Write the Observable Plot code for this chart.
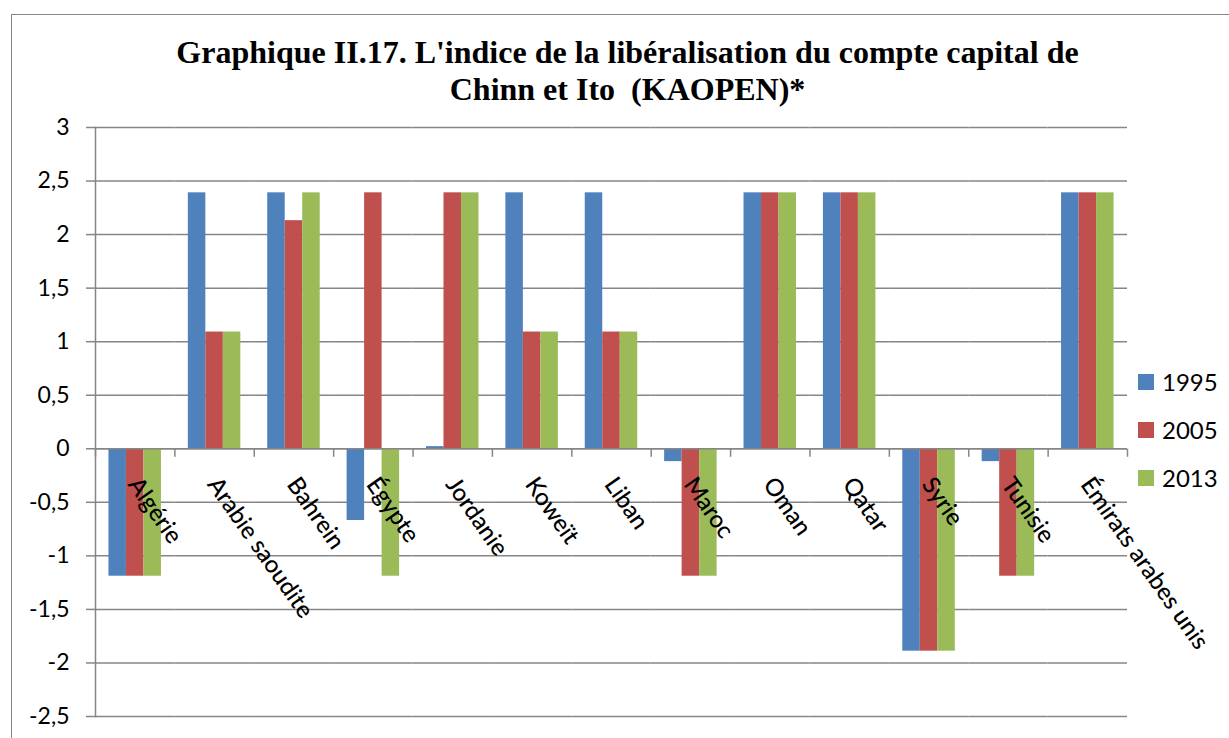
<!DOCTYPE html>
<html>
<head>
<meta charset="utf-8">
<script src="https://cdn.jsdelivr.net/npm/d3@7"></script>
<script src="https://cdn.jsdelivr.net/npm/@observablehq/plot@0.6"></script>
<style>
  html, body { margin: 0; padding: 0; background: white; overflow: hidden; }
  #wrap { position: relative; width: 1229px; height: 738px; overflow: hidden; }
  #border { position: absolute; left: 11px; top: 14px; width: 1400px; height: 900px;
            border-top: 1.5px solid #868686; border-left: 1.5px solid #868686; z-index: 3; pointer-events: none; }
  #title { position: relative; height: 110px; }
  #title div { position: absolute; left: 13px; width: 1229px; text-align: center;
               font-family: "Liberation Serif", "Times New Roman", serif; font-weight: bold;
               font-size: 32px; line-height: 37px; white-space: pre; color: black; }
  #legend { position: absolute; left: 1138px; top: 0; z-index: 2; font-family: Lato, sans-serif; font-size: 24px; }
  .li { position: absolute; left: 0; height: 24px; width: 90px; }
  .sw { position: absolute; left: 0; top: 4px; width: 16px; height: 16px; }
  .lt { position: absolute; left: 24px; top: 0; line-height: 24px; white-space: nowrap; }
</style>
</head>
<body>
<div id="wrap">
  <div id="border"></div>
  <div id="title"></div>
  <div id="chart"></div>
  <div id="legend"></div>
</div>
<script>
const titleLines = ["Graphique II.17. L'indice de la libéralisation du compte capital de", "Chinn et Ito  (KAOPEN)*"];
const countries = ["Algérie", "Arabie saoudite", "Bahrein", "Égypte", "Jordanie", "Koweït", "Liban", "Maroc", "Oman", "Qatar", "Syrie", "Tunisie", "Émirats arabes unis"];
const years = ["1995", "2005", "2013"];
const v1995 = [-1.19, 2.39, 2.39, -0.67, 0.02, 2.39, 2.39, -0.12, 2.39, 2.39, -1.89, -0.12, 2.39];
const v2005 = [-1.19, 1.09, 2.13, 2.39, 2.39, 1.09, 1.09, -1.19, 2.39, 2.39, -1.89, -1.19, 2.39];
const v2013 = [-1.19, 1.09, 2.39, -1.19, 2.39, 1.09, 1.09, -1.19, 2.39, 2.39, -1.89, -1.19, 2.39];
const colors = ["#4F81BD", "#C0504D", "#9BBB59"];
const yTicks = [-2.5, -2, -1.5, -1, -0.5, 0, 0.5, 1, 1.5, 2, 2.5, 3];

const series = [v1995, v2005, v2013];
const data = [];
countries.forEach((c, i) => years.forEach((y, j) => data.push({country: c, year: y, value: series[j][i]})));

// title
const t = document.getElementById("title");
titleLines.forEach((line, i) => {
  const d = document.createElement("div");
  d.textContent = line;
  d.style.top = (34 + i * 37) + "px";
  t.appendChild(d);
});

const gray = "#868686";
const fmt = d => String(d).replace(".", ",");
const tickSym = {draw(ctx) { ctx.moveTo(0, 0); ctx.lineTo(0, 8); }};

const chart = Plot.plot({
  width: 1229,
  height: 628,
  marginTop: 17,
  marginBottom: 22,
  marginLeft: 95,
  marginRight: 102,
  style: {fontFamily: "Lato, sans-serif", fontSize: "23px", background: "transparent", color: "black"},
  fx: {domain: countries, padding: 0, round: false, axis: null, label: null},
  x: {domain: years, paddingInner: 0, paddingOuter: 0.768, round: false, axis: null},
  y: {domain: [-2.5, 3], axis: null},
  color: {domain: years, range: colors},
  marks: [
    Plot.gridY(yTicks, {stroke: gray, strokeOpacity: 1, strokeWidth: 1.5}),
    Plot.barY(data, {fx: "country", x: "year", y: "value", fill: "year"}),
    Plot.ruleY([0], {stroke: gray, strokeWidth: 1.5}),
    Plot.frame({anchor: "left", facetAnchor: "left", stroke: gray, strokeWidth: 1.5}),
    Plot.axisY({ticks: yTicks, anchor: "left", tickSize: 9, text: null, stroke: gray, strokeWidth: 1.5, label: null}),
    Plot.axisY({ticks: yTicks, anchor: "left", tickSize: 0, tickPadding: 26, tickFormat: fmt, fill: "black", fontSize: 23, label: null}),
    Plot.dot(countries, {fx: d => d, y: () => 0, frameAnchor: "left", symbol: tickSym, stroke: gray, strokeWidth: 1.5}),
    Plot.dot([countries[countries.length - 1]], {fx: d => d, y: () => 0, frameAnchor: "right", symbol: tickSym, stroke: gray, strokeWidth: 1.5}),
    Plot.text(countries, {fx: d => d, y: () => 0, text: d => d, rotate: 55, textAnchor: "start", lineAnchor: "top", dx: 6, dy: 26, fontSize: 24, fontWeight: 500, fill: "black"})
  ]
});
document.getElementById("chart").appendChild(chart);

// legend
const lg = document.getElementById("legend");
years.forEach((y, i) => {
  const it = document.createElement("div");
  it.className = "li";
  it.style.top = (370 + i * 48) + "px";
  const sw = document.createElement("div");
  sw.className = "sw";
  sw.style.background = colors[i];
  const lt = document.createElement("div");
  lt.className = "lt";
  lt.textContent = y;
  it.appendChild(sw); it.appendChild(lt);
  lg.appendChild(it);
});
</script>
</body>
</html>
